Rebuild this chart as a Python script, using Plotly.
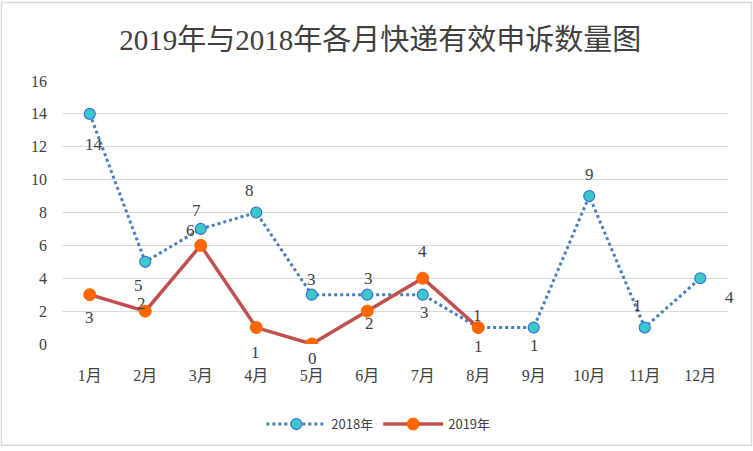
import plotly.graph_objects as go

months = ["1月", "2月", "3月", "4月", "5月", "6月", "7月", "8月", "9月", "10月", "11月", "12月"]
y2018 = [14, 5, 7, 8, 3, 3, 3, 1, 1, 9, 1, 4]
y2019 = [3, 2, 6, 1, 0, 2, 4, 1]
yticks = [0, 2, 4, 6, 8, 10, 12, 14, 16]

# label offsets (pixels) - styling only
off2018 = [(4, -31), (-7, -24), (-4, 18), (-7, 22), (0, 15), (1, 16), (2, -18),
           (-1, 12), (1, -18), (0, 22), (-7, 22), (29, -19)]
off2019 = [(0, -23), (-4, 8), (-10, 15), (-1, -25), (1, -14), (2, -12), (0, 27), (0, -19)]

W, H = 753, 451
L, R, T, B = 62, 25, 81, 104
pw, ph = W - L - R, H - T - B

fig = go.Figure()
fig.add_trace(go.Scatter(
    x=months, y=y2018, name="2018年", mode="lines+markers",
    line=dict(color="#4a7ebb", width=3, dash="dot"),
    marker=dict(size=11, color="#3cc8c8", line=dict(color="#3a6fe0", width=1.2)),
))
fig.add_trace(go.Scatter(
    x=months[:len(y2019)], y=y2019, name="2019年", mode="lines+markers",
    line=dict(color="#c0504d", width=3.5),
    marker=dict(size=12, color="#ff6600", line=dict(color="#ff6600", width=1)),
))

lab_font = dict(family="Liberation Serif, Noto Sans CJK SC, serif", size=17, color="#404040")
for m, v, (dx, dy) in zip(months, y2018, off2018):
    fig.add_annotation(x=m, y=v, text=str(v), showarrow=False, xshift=dx, yshift=dy, font=lab_font)
for m, v, (dx, dy) in zip(months, y2019, off2019):
    fig.add_annotation(x=m, y=v, text=str(v), showarrow=False, xshift=dx, yshift=dy, font=lab_font)

fig.add_shape(type="rect", xref="paper", yref="paper",
              x0=-(L - 1.5) / pw, x1=1 + (R - 1.5) / pw,
              y0=-(B - 1.5) / ph, y1=1 + (T - 1.5) / ph,
              line=dict(color="#d9d9d9", width=1.5), layer="below")

fig.update_layout(
    width=W, height=H,
    margin=dict(l=L, r=R, t=T, b=B),
    paper_bgcolor="white", plot_bgcolor="white",
    title=dict(text="2019年与2018年各月快递有效申诉数量图", x=0.505, xanchor="center",
               y=1 - 40 / H, yanchor="middle",
               font=dict(family="Liberation Serif, Noto Sans CJK SC, serif", size=29, color="#404040")),
    showlegend=True,
    legend=dict(orientation="h", x=0.475, xanchor="center", y=-(428 - T - ph) / ph, yanchor="middle",
                font=dict(family="Noto Sans CJK SC, sans-serif", size=13, color="#404040"),
                itemwidth=60, tracegroupgap=30),
    xaxis=dict(type="category", range=[-0.5, 11.5], showgrid=False, showline=False, zeroline=False,
               ticks="", ticklabelstandoff=20,
               tickfont=dict(family="Liberation Serif, Noto Sans CJK SC, serif", size=16, color="#404040")),
    yaxis=dict(range=[0, 16], tickvals=yticks, showgrid=True, gridcolor="#d9d9d9", gridwidth=1,
               zeroline=False, showline=False, ticks="", ticklabelstandoff=14,
               tickfont=dict(family="Liberation Serif, serif", size=16, color="#404040")),
)
fig.write_html("out.html")
